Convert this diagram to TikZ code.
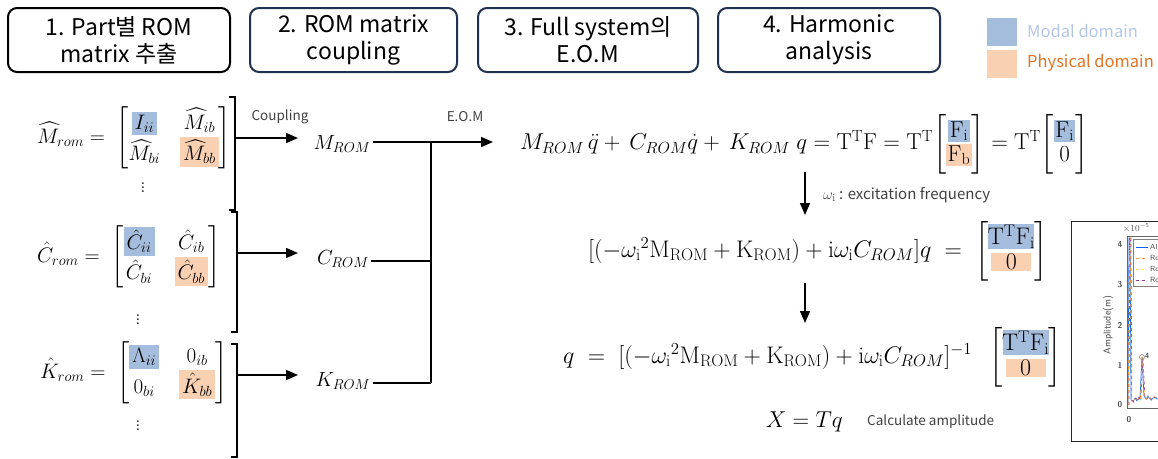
\documentclass[tikz,border=0pt]{standalone}
\usepackage{fix-cm}
\usepackage{amsmath}
\usepackage{fontspec}
\newfontfamily\kr{Noto Sans CJK KR}
\usetikzlibrary{arrows.meta}
\definecolor{modal}{RGB}{164,189,220}
\definecolor{phys}{RGB}{250,208,178}
\definecolor{modaltxt}{RGB}{180,199,231}
\definecolor{phystxt}{RGB}{228,115,35}
\definecolor{navy}{RGB}{31,50,80}
\definecolor{lblgray}{RGB}{64,64,64}
\newcommand{\hb}[2]{{\setlength{\fboxsep}{3pt}\colorbox{#1}{$#2$}}}
\newcommand{\hbv}[2]{{\setlength{\fboxsep}{1.5pt}\colorbox{#1}{$#2$}}}
\newcommand{\hbw}[3]{{\setlength{\fboxsep}{1pt}\colorbox{#1}{\makebox[#2]{$#3$}}}}
\begin{document}
\begin{tikzpicture}[x=1pt,y=-1pt,
  stepbox/.style={draw, rounded corners=9pt, line width=2pt, minimum height=64pt, align=center,
    inner sep=0pt, font=\kr\fontsize{23}{27}\selectfont},
  eqn/.style={inner sep=0pt, font=\fontsize{21}{25}\selectfont},
  eqr/.style={inner sep=0pt, font=\fontsize{23}{27}\selectfont},
  eqs/.style={inner sep=0pt, font=\fontsize{24}{28}\selectfont},
  lbl/.style={inner sep=0pt, text=lblgray, font=\kr\fontsize{13.5}{16}\selectfont},
  arr/.style={line width=1.5pt, -{Triangle[length=12pt,width=10pt]}},
  ln/.style={line width=1.5pt},
  brk/.style={line width=2pt},
  legsq/.style={minimum width=30pt, minimum height=28pt, inner sep=0pt}]
\useasboundingbox (0,0) rectangle (1158,458);

% top step boxes
\node[stepbox, minimum width=222pt] (s1) at (119,40) {1. Part별 ROM\\matrix 추출};
\node[stepbox, navy, text=black, minimum width=207pt] (s2) at (353.5,40) {2. ROM matrix\\coupling};
\node[stepbox, navy, text=black, minimum width=220pt] (s3) at (588,40) {3. Full system의\\E.O.M};
\node[stepbox, navy, text=black, minimum width=222pt] (s4) at (829,40) {4. Harmonic\\analysis};

% legend
\node[legsq, fill=modal] (lm) at (1002,32) {};
\node[legsq, fill=phys] (lp) at (1002,63.5) {};
\node[anchor=west, inner sep=0pt, text=modaltxt, font=\kr\fontsize{16.5}{20}\selectfont] (lmt) at (1027,31) {Modal domain};
\node[anchor=west, inner sep=0pt, text=phystxt, font=\kr\fontsize{16.5}{20}\selectfont] (lpt) at (1027,63) {Physical domain};

% left ROM matrices
\node[eqn, anchor=west] (mM) at (37,138) {\setlength{\arraycolsep}{10pt}$\widehat{M}_{rom} =\; \begin{bmatrix} \hb{modal}{I_{ii}} & \widehat{M}_{ib} \\ \widehat{M}_{bi} & \hb{phys}{\widehat{M}_{bb}} \end{bmatrix}$};
\node[eqn] (dM) at (143,185) {$\vdots$};
\node[eqn, anchor=west] (mC) at (37,257) {\setlength{\arraycolsep}{10pt}$\hat{C}_{rom} =\; \begin{bmatrix} \hb{modal}{\hat{C}_{ii}} & \hat{C}_{ib} \\ \hat{C}_{bi} & \hb{phys}{\hat{C}_{bb}} \end{bmatrix}$};
\node[eqn] (dC) at (138,317) {$\vdots$};
\node[eqn, anchor=west] (mK) at (40,373) {\setlength{\arraycolsep}{10pt}$\hat{K}_{rom} =\; \begin{bmatrix} \hb{modal}{\Lambda_{ii}} & 0_{ib} \\ 0_{bi} & \hb{phys}{\hat{K}_{bb}} \end{bmatrix}$};
\node[eqn] (dK) at (138,423) {$\vdots$};

% big brackets
\draw[brk] (229,97) -- (235,97) -- (235,210) -- (229,210);
\draw[brk] (231,212) -- (237,212) -- (237,332) -- (231,332);
\draw[brk] (231,344) -- (237,344) -- (237,457) -- (231,457);
\coordinate (bM) at (235,138);
\coordinate (bC) at (237,253);
\coordinate (bK) at (237,375);

% ROM matrices after coupling
\node[eqn, inner sep=2pt, font=\fontsize{20.5}{24}\selectfont] (MR) at (342,144) {$M_{ROM}$};
\node[eqn, inner sep=2pt, font=\fontsize{20.5}{24}\selectfont] (CR) at (343,259) {$C_{ROM}$};
\node[eqn, inner sep=2pt, font=\fontsize{20.5}{24}\selectfont] (KR) at (343,381) {$K_{ROM}$};
\coordinate (tM) at (298,138);
\coordinate (tC) at (298,253);
\coordinate (tK) at (298,375);
\draw[arr] (bM) -- (tM);
\draw[arr] (bC) -- (tC);
\draw[arr] (bK) -- (tK);
\node[lbl] (lc) at (280,117) {Coupling};

\coordinate (jM) at (431,142);
\coordinate (jC) at (431,261);
\coordinate (jK) at (431,383);
\draw[ln] (MR.east |- jM) -- (jM);
\draw[ln] (CR.east |- jC) -- (jC);
\draw[ln] (KR.east |- jK) -- (jK);
\draw[ln] (jM) -- (jK);
\coordinate (tE) at (493,142);
\draw[arr] (jM) -- (tE);
\node[lbl] (le) at (465,117) {E.O.M};

% right equations
\node[eqr, anchor=west] (e1) at (520,144) {$M_{ROM}\,\ddot{q} + \,C_{ROM}\dot{q} + \,K_{ROM}\;q = \mathrm{T^{T}F} = \mathrm{T^{T}}\!\begin{bmatrix} \hbv{modal}{\mathrm{F_i}} \\[-3pt] \hbv{phys}{\mathrm{F_b}} \end{bmatrix} = \mathrm{T^{T}}\!\begin{bmatrix} \hbv{modal}{\mathrm{F_i}} \\[-3pt] 0 \end{bmatrix}$};
\node[eqs, anchor=west] (e2) at (588,251) {$[(-\omega_{\mathrm{i}}{}^{2}\mathrm{M_{ROM}} + \mathrm{K_{ROM}}) + \mathrm{i}\omega_{\mathrm{i}}C_{ROM}]q \;=\; \begin{bmatrix} \hbw{modal}{44pt}{\mathrm{T^{T}F_i}} \\[-3pt] \hbw{phys}{38pt}{0} \end{bmatrix}$};
\node[eqs, anchor=west] (e3) at (563,357) {$q \;=\; [(-\omega_{\mathrm{i}}{}^{2}\mathrm{M_{ROM}} + \mathrm{K_{ROM}}) + \mathrm{i}\omega_{\mathrm{i}}C_{ROM}]^{-1}\;\; \begin{bmatrix} \hbw{modal}{44pt}{\mathrm{T^{T}F_i}} \\[-3pt] \hbw{phys}{38pt}{0} \end{bmatrix}$};
\node[eqr, anchor=east] (e4) at (843,422) {$X = Tq$};
\node[lbl, anchor=west] (l4) at (867,422) {Calculate amplitude};

\coordinate (a1s) at (805,172);
\coordinate (a1e) at (805,215);
\coordinate (a2s) at (805,283);
\coordinate (a2e) at (805,323);
\draw[arr] (a1s) -- (a1e);
\draw[arr] (a2s) -- (a2e);
\node[lbl, anchor=west, font=\kr\fontsize{15}{18}\selectfont] (lw) at (823,195) {$\omega_{\mathrm{i}}$ : excitation frequency};

% result plot (partly cut off at the right edge)
\begin{scope}
\clip (0,0) rectangle (1158,458);
\draw[line width=1pt, black!85] (1071,221) rectangle (1175,441);
\draw[line width=0.6pt, black!60] (1127,408) -- (1127,236) -- (1175,236);
\draw[line width=0.6pt, black!60] (1127,408) -- (1175,408);
\foreach \v/\yy in {0/405,1/365,2/325,3/285,4/245}
  \node[inner sep=0pt, font=\fontsize{8.5}{9}\sffamily\bfseries, text=black!70] at (1120,\yy) {\v};
\node[anchor=west, inner sep=0pt, font=\fontsize{9}{10}\sffamily, text=black!70] (px) at (1123,228) {$\times10^{-5}$};
\node[inner sep=0pt, rotate=90, font=\fontsize{10}{11}\sffamily, text=black!75] (pa) at (1108,325) {Amplitude(m)};
\node[inner sep=0pt, font=\fontsize{8.5}{9}\sffamily\bfseries, text=black!70] at (1129,420) {0};
\draw[line width=0.5pt, black!50, fill=white] (1133,239) rectangle (1175,286);
\draw[line width=1pt, blue!60!cyan] (1136,247) -- (1148,247);
\draw[line width=1pt, orange!80, dashed] (1136,258) -- (1148,258);
\draw[line width=1pt, yellow!80!orange, dotted] (1136,269) -- (1148,269);
\draw[line width=1pt, violet!80, dashed] (1136,280) -- (1148,280);
\foreach \t/\yy in {Al/247,Ro/258,Ro/269,Ro/280}
  \node[anchor=west, inner sep=0pt, font=\fontsize{7.5}{8}\sffamily, text=black!70] at (1150,\yy) {\t};
\foreach \c/\s/\d in {blue!60!cyan/solid/0, orange!80/dashed/0.3, yellow!80!orange/dotted/0.6, violet!70/dashed/0.9}
  \draw[line width=0.7pt, \c, \s, xshift=\d pt] (1128,405) -- (1129,238) -- (1130,238) -- (1131,400) -- (1133,402) -- (1135,398) -- (1137,401) -- (1139,397) -- (1140,399) -- (1142,357) -- (1144,396) -- (1146,399) -- (1148,396) -- (1151,400) -- (1154,397) -- (1158,399);
\draw[line width=0.6pt, gray] (1142,357) circle (2.5pt);
\node[anchor=west, inner sep=0pt, font=\fontsize{7.5}{8}\sffamily\bfseries, text=black!70] at (1145,356) {4};
\end{scope}
\end{tikzpicture}
\end{document}
